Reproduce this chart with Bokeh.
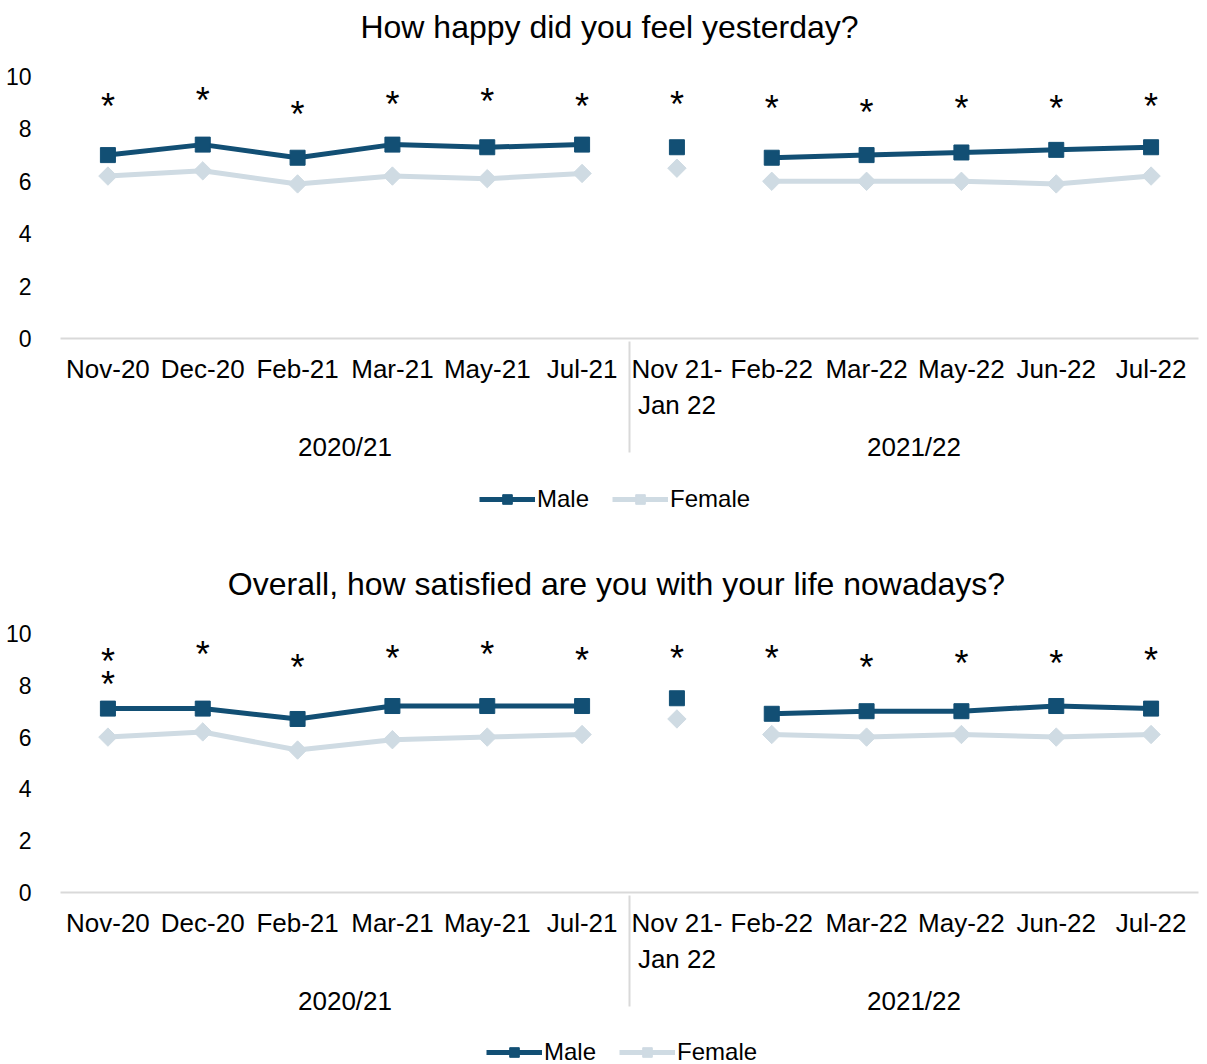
import numpy as np
from bokeh.plotting import figure
from bokeh.models import FactorRange, Range1d, FixedTicker, Legend, LegendItem, Label
from bokeh.layouts import column
from bokeh.embed import file_html
from bokeh.resources import INLINE
from bokeh.core.properties import value

# ---------------- data ----------------
years = ["2020/21"] * 6 + ["2021/22"] * 6
months = ["Nov-20", "Dec-20", "Feb-21", "Mar-21", "May-21", "Jul-21",
          "Nov 21-\nJan 22", "Feb-22", "Mar-22", "May-22", "Jun-22", "Jul-22"]

happy_title = "How happy did you feel yesterday?"
happy_male = [7.0, 7.4, 6.9, 7.4, 7.3, 7.4, 7.3, 6.9, 7.0, 7.1, 7.2, 7.3]
happy_female = [6.2, 6.4, 5.9, 6.2, 6.1, 6.3, 6.5, 6.0, 6.0, 6.0, 5.9, 6.2]
happy_star_idx = [0, 1, 2, 3, 4, 5, 6, 7, 8, 9, 10, 11]
happy_star_y = [9.0, 9.24, 8.7, 9.1, 9.2, 9.0, 9.1, 8.93, 8.78, 8.93, 8.93, 9.0]

life_title = "Overall, how satisfied are you with your life nowadays?"
life_male = [7.1, 7.1, 6.7, 7.2, 7.2, 7.2, 7.5, 6.9, 7.0, 7.0, 7.2, 7.1]
life_female = [6.0, 6.2, 5.5, 5.9, 6.0, 6.1, 6.7, 6.1, 6.0, 6.1, 6.0, 6.1]
life_star_idx = [0, 0, 1, 2, 3, 4, 5, 6, 7, 8, 9, 10, 11]
life_star_y = [9.09, 8.18, 9.35, 8.86, 9.18, 9.33, 9.12, 9.18, 9.18, 8.86, 9.0, 9.0, 9.12]

y_ticks = [0, 2, 4, 6, 8, 10]
series_names = ["Male", "Female"]

# ---------------- style ----------------
FONT = "Liberation Sans"
MALE_C = "#124F74"
FEMALE_C = "#CFDBE3"
AXIS_C = "#D9D9D9"
segments = [(0, 6), (6, 7), (7, 12)]
W = 1207

factors = list(zip(years, months))


def make_xrange():
    return FactorRange(*factors, factor_padding=0, group_padding=0, range_padding=0)


def style_male_line(p, x, y):
    return p.line(x=x, y=y, line_color=MALE_C, line_width=5)


def style_female_line(p, x, y):
    return p.line(x=x, y=y, line_color=FEMALE_C, line_width=5)


def style_male_pts(p, x, y):
    return p.scatter(x=x, y=y, marker="square", size=15, fill_color=MALE_C, line_color=MALE_C)


def style_female_pts(p, x, y):
    return p.scatter(x=x, y=y, marker="square", angle=np.pi / 4, size=13,
                     fill_color=FEMALE_C, line_color=FEMALE_C)


def strip(height):
    q = figure(width=W, height=height, x_range=make_xrange(), y_range=Range1d(100, 110),
               output_backend="svg", toolbar_location=None,
               x_axis_location=None, y_axis_location=None, min_border=0)
    q.outline_line_color = None
    q.xgrid.visible = False
    q.ygrid.visible = False
    return q


def build_title(text, height, cx, cy):
    q = strip(height)
    q.add_layout(Label(x=cx, y=cy, x_units="screen", y_units="screen", text=text,
                       text_font=FONT, text_font_size="32px", text_color="black",
                       text_align="center", text_baseline="middle"))
    return q


def build(male, female, star_idx, star_y, height, top, bottom, left, right):
    p = figure(x_range=make_xrange(), y_range=Range1d(0, 10), width=W, height=height,
               output_backend="svg", toolbar_location=None,
               min_border_top=top, min_border_bottom=bottom,
               min_border_left=left, min_border_right=right)
    p.outline_line_color = None
    p.xgrid.visible = False
    p.ygrid.visible = False

    ya = p.yaxis[0]
    ya.ticker = FixedTicker(ticks=y_ticks)
    ya.axis_line_color = None
    ya.major_tick_line_color = None
    ya.minor_tick_line_color = None
    ya.major_label_text_font = FONT
    ya.major_label_text_font_size = "23px"
    ya.major_label_text_color = "black"
    ya.major_label_standoff = 23

    xa = p.xaxis[0]
    xa.axis_line_color = AXIS_C
    xa.axis_line_width = 2
    xa.major_tick_line_color = None
    xa.minor_tick_line_color = None
    xa.major_label_text_font = FONT
    xa.major_label_text_font_size = "26px"
    xa.major_label_text_color = "black"
    xa.major_label_standoff = 9
    xa.group_text_font = FONT
    xa.group_text_font_size = "26px"
    xa.group_text_font_style = "normal"
    xa.group_text_color = "black"
    xa.separator_line_color = AXIS_C
    xa.separator_line_width = 2

    for a, b in segments:
        if b - a > 1:
            style_female_line(p, factors[a:b], female[a:b])
            style_male_line(p, factors[a:b], male[a:b])
    style_female_pts(p, factors, female)
    style_male_pts(p, factors, male)

    sx = [factors[i] for i in star_idx]
    p.text(x=sx, y=star_y, text=["*"] * len(sx), text_font=value(FONT),
           text_font_size="36px", text_align="center", text_baseline="alphabetic",
           y_offset=4, text_color="black")
    return p


def build_legend(male, female, height, loc):
    # legend strip: series are drawn off-range so that only the legend shows
    q = strip(height)
    ml = style_male_line(q, factors, male)
    mp = style_male_pts(q, factors, male)
    fl = style_female_line(q, factors, female)
    fp = style_female_pts(q, factors, female)
    legend = Legend(items=[LegendItem(label=series_names[0], renderers=[ml, mp]),
                           LegendItem(label=series_names[1], renderers=[fl, fp])],
                    orientation="horizontal", location=loc)
    legend.label_text_font = FONT
    legend.label_text_font_size = "24px"
    legend.label_text_color = "black"
    legend.glyph_width = 56
    legend.glyph_height = 24
    legend.spacing = 23
    legend.label_standoff = 2
    legend.padding = 0
    legend.margin = 0
    legend.border_line_color = None
    legend.background_fill_alpha = 0
    q.add_layout(legend)
    return q


t1 = build_title(happy_title, 52, 549, 26)
p1 = build(happy_male, happy_female, happy_star_idx, happy_star_y, 423, 24, 137, 60, 9)
l1 = build_legend(happy_male, happy_female, 55, (419, 17))
t2 = build_title(life_title, 80, 556, 27)
p2 = build(life_male, life_female, life_star_idx, life_star_y, 410, 23, 128, 59, 0)
l2 = build_legend(life_male, life_female, 44, (426, -2))

layout = column(t1, p1, l1, t2, p2, l2, spacing=0)
open("out.html", "w").write(file_html(layout, INLINE))
